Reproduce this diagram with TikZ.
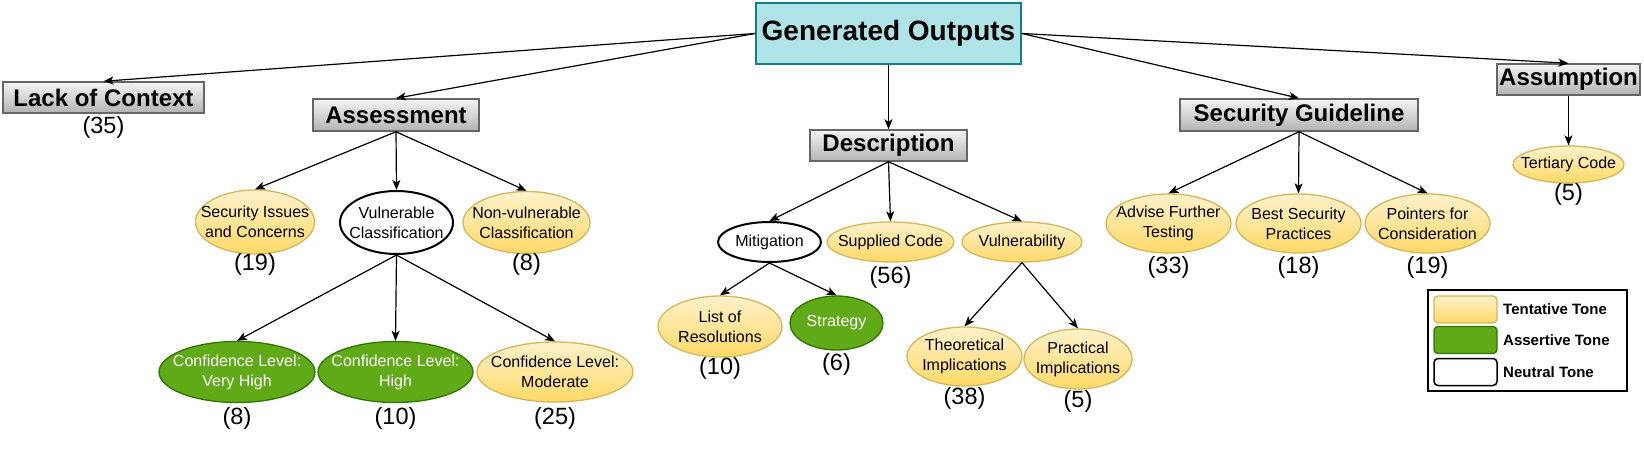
\documentclass[tikz,border=0pt]{standalone}
\usepackage{fontspec}
\setmainfont{Liberation Sans}
\usetikzlibrary{shapes.geometric,arrows.meta}
\definecolor{genfill}{HTML}{B0E3E6}
\definecolor{genline}{HTML}{0E8088}
\definecolor{graytop}{HTML}{F5F5F5}
\definecolor{graybot}{HTML}{B3B3B3}
\definecolor{grayline}{HTML}{666666}
\definecolor{tenttop}{HTML}{FFF2CC}
\definecolor{tentbot}{HTML}{FFD966}
\definecolor{tentline}{HTML}{D6B656}
\definecolor{assfill}{HTML}{60A917}
\definecolor{assline}{HTML}{2D7600}
\tikzset{
  catbox/.style={draw=grayline, line width=1.5pt, top color=graytop, bottom color=graybot, inner sep=0pt, font=\bfseries\fontsize{24}{28}\selectfont},
  tonetext/.style={font=\fontsize{16}{20}\selectfont, align=center, inner sep=0pt},
  tentative/.style={ellipse, inner sep=0pt, draw=tentline, line width=1.3pt, top color=tenttop, bottom color=tentbot, label={[tonetext]center:#1}},
  assertive/.style={ellipse, inner sep=0pt, draw=assline, line width=1.3pt, fill=assfill, label={[tonetext, text=white]center:#1}},
  neutral/.style={ellipse, inner sep=0pt, draw=black, line width=2pt, fill=white, label={[tonetext]center:#1}},
  count/.style={font=\fontsize{23.5}{27}\selectfont, inner sep=0pt},
  swatch/.style={rectangle, rounded corners=4pt, minimum width=63pt, minimum height=27pt, inner sep=0pt},
  legtext/.style={anchor=west, inner sep=0pt, font=\bfseries\fontsize{15}{18}\selectfont},
  link/.style={-{Stealth[length=10pt, width=8pt, inset=2.5pt]}, line width=1.2pt}
}
\begin{document}
\begin{tikzpicture}[x=1pt, y=-1pt]
    \useasboundingbox (0,0) rectangle (1644,454);
    % root and categories
    \node[draw=genline, line width=2pt, fill=genfill, minimum width=265pt, minimum height=61pt, inner sep=0pt, font=\bfseries\fontsize{28}{32}\selectfont] (gen) at (888.5,33.5) {Generated Outputs};
    \node[catbox, minimum width=201pt, minimum height=31pt] (lack) at (103.5,97.5) {Lack of Context};
    \node[catbox, minimum width=166pt, minimum height=32pt] (ass) at (396,115) {Assessment};
    \node[catbox, minimum width=157pt, minimum height=31pt] (desc) at (888.5,145.5) {Description};
    \node[catbox, minimum width=238pt, minimum height=32pt] (sg) at (1299,115) {Security Guideline};
    \node[catbox, minimum width=143pt, minimum height=31pt] (asm) at (1568.5,79.5) {Assumption};
    \node[count] (n35) at (103.5,127) {(35)};

    % assessment
    \node[tentative={Security Issues\\and Concerns}, minimum width=119pt, minimum height=64pt] (sic) at (255,222) {};
    \node[neutral={Vulnerable\\Classification}, minimum width=113pt, minimum height=63pt] (vc) at (396.5,222.5) {};
    \node[tentative={Non-vulnerable\\Classification}, minimum width=127pt, minimum height=62pt] (nvc) at (526.5,222.5) {};
    \node[assertive={Confidence Level:\\Very High}, minimum width=156pt, minimum height=61pt] (clvh) at (237,372) {};
    \node[assertive={Confidence Level:\\High}, minimum width=155pt, minimum height=61pt] (clh) at (395.5,372) {};
    \node[tentative={Confidence Level:\\Moderate}, minimum width=156pt, minimum height=60pt] (clm) at (555,372) {};
    \node[count] (n19a) at (255,264) {(19)};
    \node[count] (n8a) at (526.5,264) {(8)};
    \node[count] (n8b) at (237,418) {(8)};
    \node[count] (n10a) at (395.5,418) {(10)};
    \node[count] (n25) at (555,418) {(25)};

    % description
    \node[neutral={Mitigation}, minimum width=103pt, minimum height=40pt] (mit) at (769.5,242) {};
    \node[tentative={Supplied Code}, minimum width=127pt, minimum height=40pt] (sc) at (890.5,242) {};
    \node[tentative={Vulnerability}, minimum width=120pt, minimum height=40pt] (vul) at (1022,242) {};
    \node[tentative={List of\\Resolutions}, minimum width=124pt, minimum height=61pt] (lor) at (720,326.5) {};
    \node[assertive={Strategy}, minimum width=93pt, minimum height=54pt] (strat) at (836.5,323) {};
    \node[tentative={Theoretical\\Implications}, minimum width=115pt, minimum height=59pt] (thi) at (964.5,356.5) {};
    \node[tentative={Practical\\Implications}, minimum width=108pt, minimum height=60pt] (pri) at (1078,359) {};
    \node[count] (n56) at (890.5,277) {(56)};
    \node[count] (n10b) at (720,368) {(10)};
    \node[count] (n6) at (836.5,364) {(6)};
    \node[count] (n38) at (964.5,398) {(38)};
    \node[count] (n5a) at (1078,401) {(5)};

    % security guideline and assumption
    \node[tentative={Advise Further\\Testing}, minimum width=125pt, minimum height=59pt] (aft) at (1168.5,223.5) {};
    \node[tentative={Best Security\\Practices}, minimum width=125pt, minimum height=59pt] (bsp) at (1298.5,223.5) {};
    \node[tentative={Pointers for\\Consideration}, minimum width=125pt, minimum height=59pt] (pfc) at (1427.5,223.5) {};
    \node[tentative={Tertiary Code}, minimum width=111pt, minimum height=37pt] (ter) at (1568.5,164.5) {};
    \node[count] (n33) at (1168.5,267) {(33)};
    \node[count] (n18) at (1298.5,267) {(18)};
    \node[count] (n19b) at (1427.5,267) {(19)};
    \node[count] (n5b) at (1568.5,194) {(5)};

    % connectors
    \draw[link] (gen.west) -- (lack.north);
    \draw[link] (gen.west) -- (ass.north);
    \draw[link] (gen.south) -- (desc.north);
    \draw[link] (gen.east) -- (sg.north);
    \draw[link] (gen.east) -- (asm.north);
    \draw[link] (ass.south) -- (sic.north);
    \draw[link] (ass.south) -- (vc.north);
    \draw[link] (ass.south) -- (nvc.north);
    \draw[link] (vc.south) -- (clvh.north);
    \draw[link] (vc.south) -- (clh.north);
    \draw[link] (vc.south) -- (clm.north);
    \draw[link] (desc.south) -- (mit.north);
    \draw[link] (desc.south) -- (sc.north);
    \draw[link] (desc.south) -- (vul.north);
    \draw[link] (mit.south) -- (lor.north);
    \draw[link] (mit.south) -- (strat.north);
    \draw[link] (vul.south) -- (thi.north);
    \draw[link] (vul.south) -- (pri.north);
    \draw[link] (sg.south) -- (aft.north);
    \draw[link] (sg.south) -- (bsp.north);
    \draw[link] (sg.south) -- (pfc.north);
    \draw[link] (asm.south) -- (ter.north);

    % legend
    \draw[line width=1.5pt] (1428,290) rectangle (1627,391);
    \node[swatch, draw=tentline, line width=1.3pt, top color=tenttop, bottom color=tentbot] (swt) at (1465.5,309.5) {};
    \node[swatch, draw=assline, line width=1.3pt, fill=assfill] (swa) at (1465.5,340) {};
    \node[swatch, draw=black, line width=1.5pt, fill=white] (swn) at (1465.5,372) {};
    \node[legtext] (lgt) at (1503,309.5) {Tentative Tone};
    \node[legtext] (lga) at (1503,340) {Assertive Tone};
    \node[legtext] (lgn) at (1503,372) {Neutral Tone};
\end{tikzpicture}
\end{document}
